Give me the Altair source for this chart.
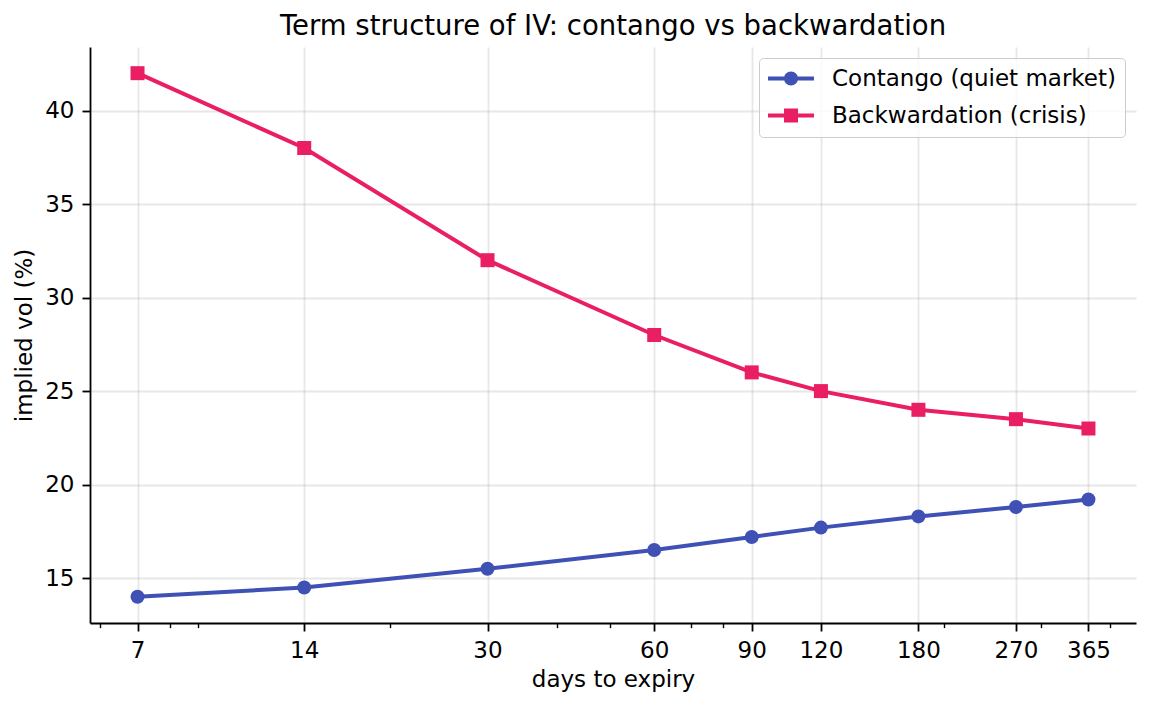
import altair as alt
import pandas as pd

days = [7, 14, 30, 60, 90, 120, 180, 270, 365]
contango = [14.0, 14.5, 15.5, 16.5, 17.2, 17.7, 18.3, 18.8, 19.2]
backwardation = [42.0, 38.0, 32.0, 28.0, 26.0, 25.0, 24.0, 23.5, 23.0]
series_names = ["Contango (quiet market)", "Backwardation (crisis)"]
series_colors = ["#3F51B5", "#E91E63"]
x_major = [7, 14, 30, 60, 90, 120, 180, 270, 365]
x_minor = [6, 8, 9, 20, 40, 50, 70, 80, 200, 300, 400]
y_ticks = [15, 20, 25, 30, 35, 40]

rows = []
for d, v in zip(days, contango):
    rows.append({"days": d, "iv": v, "series": series_names[0]})
for d, v in zip(days, backwardation):
    rows.append({"days": d, "iv": v, "series": series_names[1]})
df = pd.DataFrame(rows)

FONT = "DejaVu Sans"
FS = 23
xdom = [5.745, 444.8]
ydom = [12.6, 43.4]

xscale = alt.Scale(type="log", domain=xdom, nice=False, zero=False)
yscale = alt.Scale(domain=ydom, nice=False, zero=False)
cscale = alt.Scale(domain=series_names, range=series_colors)

x_main = alt.X("days:Q", scale=xscale,
               axis=alt.Axis(values=x_major, format="d", title="days to expiry",
                             grid=True, labelFlush=False, labelOverlap=False,
                             orient="bottom", titlePadding=6))
y_axis = alt.Axis(values=y_ticks, title="implied vol (%)", grid=True, titlePadding=8)
y_main = alt.Y("iv:Q", scale=yscale, axis=y_axis)

lines = alt.Chart(df).mark_line(strokeWidth=4).encode(
    x=x_main, y=y_main,
    color=alt.Color("series:N", scale=cscale, legend=None),
    detail="series:N",
)

points = alt.Chart(df).mark_point(filled=True, opacity=1, size=196).encode(
    x=alt.X("days:Q", scale=xscale, axis=None),
    y=y_main,
    color=alt.Color("series:N", scale=cscale, legend=None),
    shape=alt.Shape("series:N", scale=alt.Scale(domain=series_names, range=["circle", "square"]), legend=None),
)

# legend symbol paths: unit = 11.5 px (symbolSize 529)
t = 0.174
r = 0.61
line_path = f"M-1,-{t} L3,-{t} L3,{t} L-1,{t} Z "
circ_path = line_path + f"M{1 + r},0 A{r},{r} 0 1,1 {1 - r},0 A{r},{r} 0 1,1 {1 + r},0 Z"
sq_path = line_path + f"M{1 - r},-{r} L{1 + r},-{r} L{1 + r},{r} L{1 - r},{r} Z"

leg = alt.Legend(title=None, orient="top-right", offset=11, symbolOpacity=1,
                 symbolSize=529, symbolStrokeWidth=0, labelOffset=41,
                 labelFontSize=FS, labelFont=FONT, labelColor="black", labelLimit=600,
                 rowPadding=13, padding=9, fillColor="rgba(255,255,255,0.8)",
                 strokeColor="#cccccc", cornerRadius=4)

legend_layer = alt.Chart(df).mark_point(filled=True, opacity=0, size=529).encode(
    x=alt.X("days:Q", scale=xscale,
            axis=alt.Axis(values=x_minor, labels=False, tickSize=4.6, tickWidth=1.4,
                          domain=False, grid=False, title=None, orient="bottom")),
    y=y_main,
    color=alt.Color("series:N", scale=cscale, legend=leg),
    shape=alt.Shape("series:N", scale=alt.Scale(domain=series_names, range=[circ_path, sq_path]), legend=leg),
)

chart = alt.layer(lines, points, legend_layer).resolve_scale(
    color="independent", shape="independent"
).resolve_axis(x="independent").properties(
    width=1046, height=576,
    title=alt.Title("Term structure of IV: contango vs backwardation", fontSize=27.5,
                    font=FONT, fontWeight="normal", color="black", offset=7),
    autosize=alt.AutoSizeParams(type="none"),
    padding={"left": 82, "top": 39, "right": 7, "bottom": 77},
    background="white",
).configure_view(stroke=None).configure_axis(
    labelFont=FONT, titleFont=FONT, labelFontSize=FS, titleFontSize=FS,
    labelColor="black", titleColor="black", titleFontWeight="normal",
    domainColor="black", domainWidth=1.8, tickColor="black", tickWidth=1.8,
    tickSize=8, labelPadding=8, gridColor="#b0b0b0", gridOpacity=0.3, gridWidth=1.8,
)

chart.save("out.html", embed_options={"renderer": "svg", "actions": False})
